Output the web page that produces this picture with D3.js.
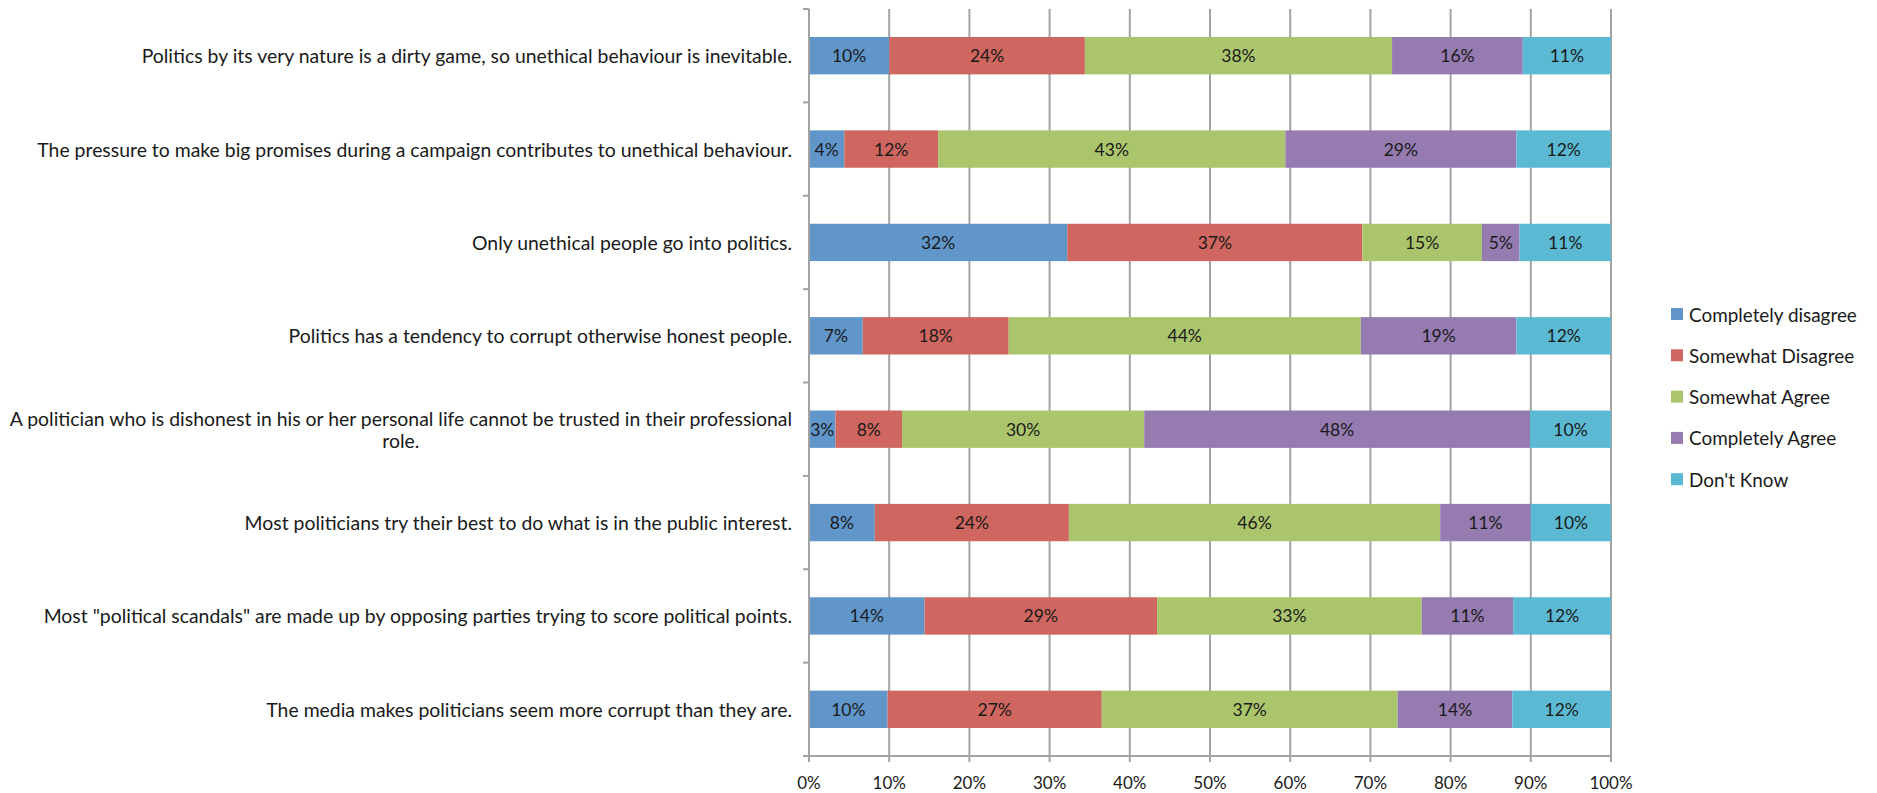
<!DOCTYPE html>
<html><head><meta charset="utf-8">
<script src="https://cdn.jsdelivr.net/npm/d3@7"></script>
<style>
body{margin:0;background:#fff;}
svg text{font-family:Lato,"Open Sans",sans-serif;fill:#1a1a1a;}
</style></head>
<body>
<svg id="chart" width="1877" height="793"></svg>
<script>
const categories = [
  "Politics by its very nature is a dirty game, so unethical behaviour is inevitable.",
  "The pressure to make big promises during a campaign contributes to unethical behaviour.",
  "Only unethical people go into politics.",
  "Politics has a tendency to corrupt otherwise honest people.",
  "A politician who is dishonest in his or her personal life cannot be trusted in their professional role.",
  "Most politicians try their best to do what is in the public interest.",
  "Most \"political scandals\" are made up by opposing parties trying to score political points.",
  "The media makes politicians seem more corrupt than they are."
];
const seriesNames = ["Completely disagree","Somewhat Disagree","Somewhat Agree","Completely Agree","Don't Know"];
const completelyDisagree = [10.0, 4.4, 32.2, 6.7, 3.3, 8.2, 14.4, 9.8];
const somewhatDisagree   = [24.4, 11.7, 36.8, 18.2, 8.3, 24.2, 29.0, 26.7];
const somewhatAgree      = [38.3, 43.3, 14.9, 43.9, 30.2, 46.3, 33.0, 36.9];
const completelyAgree    = [16.3, 28.8, 4.7, 19.4, 48.1, 11.3, 11.4, 14.3];
const dontKnow           = [11.0, 11.8, 11.4, 11.8, 10.1, 10.0, 12.2, 12.3];
const xTicks = [0,10,20,30,40,50,60,70,80,90,100];
const colors = ["#6096ca","#cf665f","#abc56d","#957bb0","#5bb9d3"];

const seriesValues = [completelyDisagree, somewhatDisagree, somewhatAgree, completelyAgree, dontKnow];
const rows = categories.map((c,i)=>{
  const r = {category:c};
  seriesNames.forEach((s,j)=>r[s]=seriesValues[j][i]);
  return r;
});
const stacked = d3.stack().keys(seriesNames)(rows);

const svg = d3.select("#chart");
const M = {left:809, right:1611, top:9, bottom:756};
const x = d3.scaleLinear().domain([0,100]).range([M.left, M.right]);
const y = d3.scaleBand().domain(categories).range([M.top, M.bottom]).paddingInner(0.6).paddingOuter(0.3);
const yOuter = d3.scaleBand().domain(categories).range([M.top, M.bottom]);

// gridlines
svg.append("g").selectAll("line").data(xTicks.slice(1)).join("line")
  .attr("x1",d=>x(d)).attr("x2",d=>x(d)).attr("y1",M.top).attr("y2",M.bottom)
  .attr("stroke","#a3a3a3").attr("stroke-width",2);

// bars
const g = svg.append("g");
stacked.forEach((s,j)=>{
  g.append("g").selectAll("rect").data(s).join("rect")
    .attr("x",d=>x(d[0])).attr("width",d=>x(d[1])-x(d[0]))
    .attr("y",d=>y(d.data.category)).attr("height",y.bandwidth())
    .attr("fill",colors[j]);
  g.append("g").selectAll("text").data(s).join("text")
    .attr("x",d=>(x(d[0])+x(d[1]))/2).attr("y",d=>y(d.data.category)+y.bandwidth()/2)
    .attr("text-anchor","middle").attr("dominant-baseline","central")
    .style("font-size","17.5px")
    .text(d=>Math.round(d[1]-d[0])+"%");
});

// y axis
const yAxis = svg.append("g").attr("transform",`translate(${M.left},0)`);
yAxis.append("line").attr("x1",0).attr("x2",0).attr("y1",M.top).attr("y2",M.bottom).attr("stroke","#a3a3a3").attr("stroke-width",2);
const yTickPos = categories.map(c=>yOuter(c)).concat([M.bottom]);
yAxis.selectAll("line.t").data(yTickPos).join("line").attr("class","t")
  .attr("x1",-6).attr("x2",0).attr("y1",d=>d).attr("y2",d=>d).attr("stroke","#a3a3a3").attr("stroke-width",2);

// x axis
const xAxis = svg.append("g").attr("transform",`translate(0,${M.bottom})`);
xAxis.append("line").attr("x1",M.left-6).attr("x2",M.right).attr("stroke","#a3a3a3").attr("stroke-width",2);
xAxis.selectAll("line.t").data(xTicks).join("line").attr("class","t")
  .attr("x1",d=>x(d)).attr("x2",d=>x(d)).attr("y1",0).attr("y2",6).attr("stroke","#a3a3a3").attr("stroke-width",2);
xAxis.selectAll("text").data(xTicks).join("text")
  .attr("x",d=>x(d)).attr("y",26).attr("text-anchor","middle").attr("dominant-baseline","central")
  .style("font-size","17px").text(d=>d+"%");

// category labels with wrapping
const labelRight = 792, maxW = 786, fs = "19.4px";
categories.forEach(c=>{
  const cy = yOuter(c)+yOuter.bandwidth()/2;
  const t = svg.append("text").style("font-size",fs).attr("text-anchor","middle");
  const words = c.split(" ");
  let lines=[], cur=[];
  const probe = svg.append("text").style("font-size",fs);
  words.forEach(w=>{
    const test = cur.concat([w]).join(" ");
    probe.text(test);
    if (probe.node().getComputedTextLength() > maxW && cur.length){ lines.push(cur.join(" ")); cur=[w]; }
    else cur.push(w);
  });
  lines.push(cur.join(" "));
  let widest = 0;
  lines.forEach(l=>{probe.text(l); widest=Math.max(widest, probe.node().getComputedTextLength());});
  probe.remove();
  const lh = 22;
  const cx = labelRight - widest/2;
  lines.forEach((l,i)=>{
    t.append("tspan").attr("x",cx).attr("y",cy + (i-(lines.length-1)/2)*lh).attr("dominant-baseline","central").text(l);
  });
});

// legend
const leg = svg.append("g");
seriesNames.forEach((s,j)=>{
  const ly = 314 + j*41.3;
  leg.append("rect").attr("x",1671).attr("y",ly-6).attr("width",12).attr("height",12).attr("fill",colors[j]);
  leg.append("text").attr("x",1689).attr("y",ly).attr("dominant-baseline","central").style("font-size","18.9px").text(s);
});
</script>
</body></html>
